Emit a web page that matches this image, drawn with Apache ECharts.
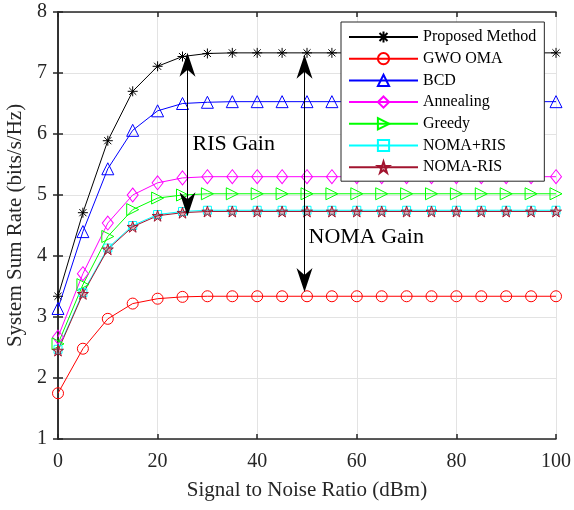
<!DOCTYPE html>
<html>
<head>
<meta charset="utf-8">
<script src="https://cdn.jsdelivr.net/npm/echarts@6/dist/echarts.min.js"></script>
<style>
html, body { margin: 0; padding: 0; background: #fff; }
#main { width: 574px; height: 510px; }
</style>
</head>
<body>
<div id="main"></div>
<script>
var snr = [0, 5, 10, 15, 20, 25, 30, 35, 40, 45, 50, 55, 60, 65, 70, 75, 80, 85, 90, 95, 100];

var proposed = [3.34, 4.71, 5.89, 6.70, 7.11, 7.27, 7.32, 7.33, 7.33, 7.33, 7.33, 7.33, 7.33, 7.33, 7.33, 7.33, 7.33, 7.33, 7.33, 7.33, 7.33];
var gwoOma = [1.75, 2.48, 2.97, 3.22, 3.30, 3.33, 3.34, 3.34, 3.34, 3.34, 3.34, 3.34, 3.34, 3.34, 3.34, 3.34, 3.34, 3.34, 3.34, 3.34, 3.34];
var bcd = [3.14, 4.40, 5.43, 6.06, 6.38, 6.50, 6.52, 6.53, 6.53, 6.53, 6.53, 6.53, 6.53, 6.53, 6.53, 6.53, 6.53, 6.53, 6.53, 6.53, 6.53];
var annealing = [2.67, 3.71, 4.54, 5.00, 5.20, 5.28, 5.30, 5.30, 5.30, 5.30, 5.30, 5.30, 5.30, 5.30, 5.30, 5.30, 5.30, 5.30, 5.30, 5.30, 5.30];
var greedy = [2.56, 3.53, 4.32, 4.76, 4.95, 5.00, 5.02, 5.02, 5.02, 5.02, 5.02, 5.02, 5.02, 5.02, 5.02, 5.02, 5.02, 5.02, 5.02, 5.02, 5.02];
var nomaPlusRis = [2.47, 3.40, 4.13, 4.50, 4.68, 4.73, 4.75, 4.75, 4.75, 4.75, 4.75, 4.75, 4.75, 4.75, 4.75, 4.75, 4.75, 4.75, 4.75, 4.75, 4.75];
var nomaMinusRis = [2.45, 3.38, 4.11, 4.48, 4.66, 4.71, 4.73, 4.73, 4.73, 4.73, 4.73, 4.73, 4.73, 4.73, 4.73, 4.73, 4.73, 4.73, 4.73, 4.73, 4.73];

// gain arrows [x, yTop, yBottom] (tip positions) and labels [x, y, text]
var risArrow = [26, 7.33, 4.65];
var nomaArrow = [49.5, 7.30, 3.41];
var gainLabels = [[26.9, 5.84, 'RIS Gain'], [50.2, 4.30, 'NOMA Gain']];

var FONT = 'Liberation Serif, Times New Roman, serif';
var asterisk = 'path://M0,-1L0,1M-1,0L1,0M-0.71,-0.71L0.71,0.71M-0.71,0.71L0.71,-0.71';
var pentagram = 'path://M0,-1L0.2245,-0.309L0.951,-0.309L0.3633,0.118L0.5878,0.809L0,0.382L-0.5878,0.809L-0.3633,0.118L-0.951,-0.309L-0.2245,-0.309Z';
var arrowHead = 'path://M0,0L8,24L0,17L-8,24Z';
var headLen = 24;
var pxPerUnitY = 61; // plot height 427 px / 7 units

function pairs(ys) {
	return snr.map(function (x, i) { return [x, ys[i]]; });
}

// symbol is centred on the end point, so pull the ends in by half a head
function arrowPair(a) {
	var h = headLen / 2 / pxPerUnitY;
	return [{coord: [a[0], a[1] - h]}, {coord: [a[0], a[2] + h]}];
}

function mk(name, ys, color, symbol, size, extra) {
	var s = {
		name: name,
		type: 'line',
		data: pairs(ys),
		symbol: symbol,
		symbolSize: size,
		showAllSymbol: true,
		lineStyle: {color: color, width: 1},
		itemStyle: {color: 'rgba(0,0,0,0)', borderColor: color, borderWidth: 1},
		emphasis: {disabled: true},
		animation: false,
		z: 3
	};
	for (var k in extra) s[k] = extra[k];
	return s;
}

var myChart = echarts.init(document.getElementById('main'));

var axisCommon = {
	type: 'value',
	axisLine: {show: true, lineStyle: {color: '#262626', width: 1.5}},
	axisTick: {show: true, inside: true, length: 5, lineStyle: {color: '#262626', width: 1.5}},
	splitLine: {show: false}
};

var option = {
	backgroundColor: '#fff',
	grid: {left: 58, right: 18, top: 12, bottom: 71, outerBoundsMode: 'none', containLabel: false},
	legend: {
		data: ['Proposed Method', 'GWO OMA', 'BCD', 'Annealing', 'Greedy', 'NOMA+RIS', 'NOMA-RIS'],
		orient: 'vertical',
		left: 341,
		top: 22,
		padding: [7, 8, 6, 7],
		itemWidth: 69,
		itemHeight: 14,
		itemGap: 5.7,
		backgroundColor: '#fff',
		borderColor: '#262626',
		borderWidth: 1,
		borderRadius: 0,
		textStyle: {fontFamily: FONT, fontSize: 16, color: '#000', lineHeight: 14, padding: [0, 0, 0, 0]},
		selectedMode: false
	},
	xAxis: [
		Object.assign({}, axisCommon, {
			min: 0, max: 100, interval: 20,
			position: 'bottom',
			name: 'Signal to Noise Ratio (dBm)',
			nameLocation: 'middle',
			nameGap: 41,
			nameTextStyle: {fontFamily: FONT, fontSize: 21, color: '#262626'},
			axisLabel: {fontFamily: FONT, fontSize: 20, color: '#262626', margin: 13},
			splitLine: {show: true, lineStyle: {color: '#e3e3e3', width: 1}}
		}),
		Object.assign({}, axisCommon, {
			min: 0, max: 100, interval: 20,
			position: 'top',
			axisLabel: {show: false}
		})
	],
	yAxis: [
		Object.assign({}, axisCommon, {
			min: 1, max: 8, interval: 1,
			position: 'left',
			name: 'System Sum Rate (bits/s/Hz)',
			nameLocation: 'middle',
			nameGap: 26,
			nameTextStyle: {fontFamily: FONT, fontSize: 21, color: '#262626'},
			axisLabel: {fontFamily: FONT, fontSize: 20, color: '#262626', margin: 11},
			splitLine: {show: true, lineStyle: {color: '#e3e3e3', width: 1}}
		}),
		Object.assign({}, axisCommon, {
			min: 1, max: 8, interval: 1,
			position: 'right',
			axisLabel: {show: false}
		})
	],
	series: [
		{
			name: 'gain',
			type: 'line',
			data: [],
			silent: true,
			animation: false,
			z: 4,
			markLine: {
				silent: true,
				animation: false,
				symbol: [arrowHead, arrowHead],
				symbolSize: [16, headLen],
				label: {show: false},
				lineStyle: {color: '#000', width: 1, type: 'solid'},
				itemStyle: {color: '#000'},
				emphasis: {disabled: true},
				data: [arrowPair(risArrow), arrowPair(nomaArrow)]
			},
			markPoint: {
				silent: true,
				animation: false,
				symbol: 'circle',
				symbolSize: 1,
				itemStyle: {color: 'rgba(0,0,0,0)'},
				label: {show: true, position: 'right', distance: 0, fontFamily: FONT, fontSize: 22, color: '#000'},
				data: gainLabels.map(function (g) {
					return {coord: [g[0], g[1]], value: g[2], label: {formatter: g[2]}};
				})
			}
		},
		mk('Proposed Method', proposed, '#000000', asterisk, 10),
		mk('GWO OMA', gwoOma, '#ff0000', 'circle', 11),
		mk('BCD', bcd, '#0000ff', 'triangle', 12),
		mk('Annealing', annealing, '#ff00ff', 'diamond', [11, 14]),
		mk('Greedy', greedy, '#00ff00', 'triangle', 12, {symbolRotate: -90}),
		mk('NOMA+RIS', nomaPlusRis, '#00ffff', 'rect', 8),
		mk('NOMA-RIS', nomaMinusRis, '#a2142f', pentagram, 11, {itemStyle: {color: 'rgba(162,20,47,0.35)', borderColor: '#a2142f', borderWidth: 1}})
	]
};

myChart.setOption(option);
</script>
</body>
</html>
